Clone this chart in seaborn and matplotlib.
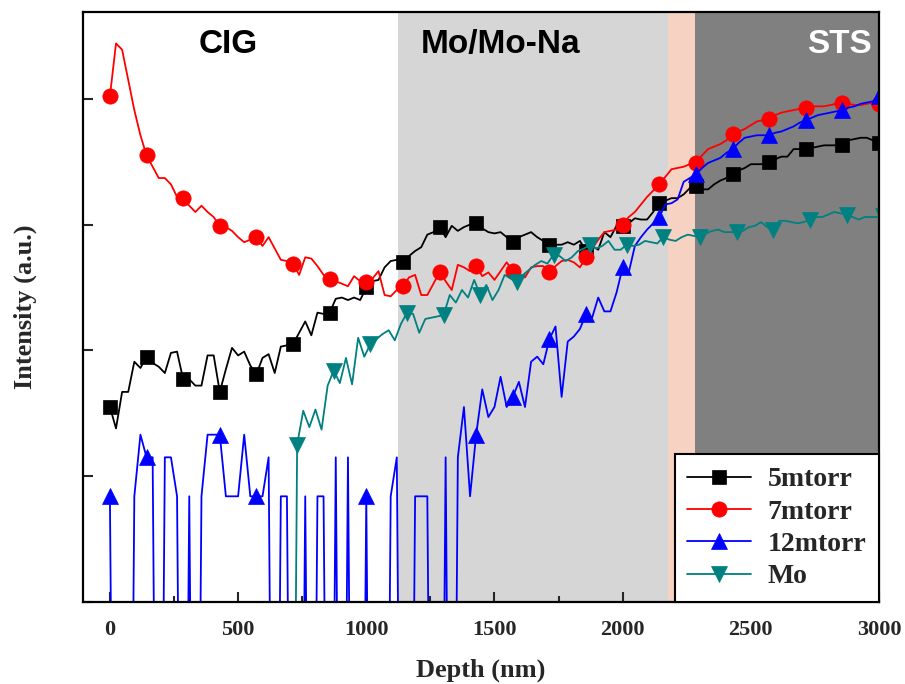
import numpy as np
import pandas as pd
import seaborn as sns
import matplotlib.pyplot as plt
from matplotlib.ticker import MultipleLocator, NullFormatter

sns.set_style('ticks')
plt.rcParams['font.family'] = ['Liberation Serif', 'DejaVu Serif']
plt.rcParams['font.weight'] = 'bold'

# depth grid (nm), one point every 3000/126 nm
depth = np.linspace(0, 3000, 127)
mo_offset = 16  # Mo profile is shifted a little in depth
mo_start = 29   # Mo profile starts here

# intensity in log units (one y tick = one unit), -5 = no signal
i_5mtorr = [1.55, 1.38, 1.67, 1.67, 1.91, 1.86, 1.95, 1.90, 1.87, 1.82,
            1.98, 1.99, 1.77, 1.77, 1.72, 1.72, 1.96, 1.96, 1.67, 1.85,
            2.02, 1.96, 1.99, 1.88, 1.81, 1.94, 1.97, 1.82, 2.03, 2.04,
            2.05, 2.14, 2.23, 2.12, 2.30, 2.29, 2.30, 2.41, 2.42, 2.40,
            2.42, 2.40, 2.50, 2.55, 2.56, 2.66, 2.71, 2.72, 2.70, 2.75,
            2.79, 2.82, 2.92, 2.94, 2.98, 2.90, 2.99, 2.95, 2.98, 3.00,
            3.01, 2.97, 2.94, 2.93, 2.94, 2.90, 2.86, 2.90, 2.92, 2.94,
            2.90, 2.87, 2.84, 2.84, 2.84, 2.86, 2.84, 2.87, 2.79, 2.83,
            2.80, 2.94, 2.90, 2.99, 2.99, 3.01, 3.05, 3.04, 3.04, 3.10,
            3.17, 3.19, 3.21, 3.21, 3.24, 3.29, 3.31, 3.28, 3.28, 3.32,
            3.35, 3.37, 3.40, 3.43, 3.45, 3.48, 3.48, 3.48, 3.50, 3.52,
            3.54, 3.54, 3.60, 3.60, 3.60, 3.61, 3.62, 3.63, 3.63, 3.63,
            3.63, 3.67, 3.68, 3.69, 3.69, 3.67, 3.65]

i_7mtorr = [4.02, 4.44, 4.39, 4.15, 3.91, 3.71, 3.55, 3.46, 3.37, 3.37,
            3.32, 3.22, 3.21, 3.15, 3.10, 3.15, 3.10, 3.06, 2.99, 2.98,
            2.95, 2.90, 2.86, 2.88, 2.90, 2.83, 2.90, 2.81, 2.72, 2.71,
            2.69, 2.60, 2.74, 2.73, 2.67, 2.60, 2.57, 2.55, 2.53, 2.51,
            2.59, 2.55, 2.54, 2.57, 2.63, 2.44, 2.43, 2.48, 2.51, 2.58,
            2.60, 2.44, 2.44, 2.53, 2.62, 2.55, 2.48, 2.68, 2.66, 2.63,
            2.67, 2.59, 2.62, 2.56, 2.63, 2.70, 2.63, 2.60, 2.58, 2.66,
            2.67, 2.67, 2.62, 2.67, 2.71, 2.72, 2.70, 2.66, 2.74, 2.81,
            2.88, 2.94, 2.95, 2.96, 3.00, 3.06, 3.10, 3.16, 3.22, 3.27,
            3.32, 3.38, 3.44, 3.45, 3.46, 3.48, 3.49, 3.55, 3.60, 3.62,
            3.64, 3.67, 3.72, 3.74, 3.76, 3.79, 3.82, 3.83, 3.84, 3.87,
            3.89, 3.90, 3.91, 3.92, 3.93, 3.94, 3.94, 3.94, 3.95, 3.96,
            3.97, 3.96, 3.95, 3.95, 3.96, 3.97, 3.96]

i_12mtorr = [0.84, -5, -5, -5, 0.84, 1.33, 1.15, 1.15, -5, 1.15,
             1.15, 0.84, -5, 0.84, -5, 0.84, 1.33, 1.33, 1.33, 0.84,
             0.84, 0.84, 1.33, 0.84, 0.84, 0.84, 1.15, -5, 0.84, 0.84,
             -5, -5, 0.84, -5, 0.84, 0.84, -5, 1.15, -5, 1.15,
             -5, -5, 0.84, -5, -5, -5, 0.84, 1.15, -5, -5,
             0.84, 0.84, 0.84, -5, -5, 1.15, -5, 1.15, 1.55, 0.84,
             1.33, 1.69, 1.47, 1.55, 1.79, 1.55, 1.63, 1.75, 1.55, 1.91,
             1.95, 1.89, 2.09, 2.19, 1.63, 2.07, 2.11, 2.17, 2.29, 2.26,
             2.42, 2.31, 2.31, 2.46, 2.66, 2.62, 2.83, 2.90, 2.96, 3.01,
             3.06, 3.16, 3.17, 3.20, 3.34, 3.37, 3.40, 3.45, 3.49, 3.51,
             3.53, 3.57, 3.60, 3.65, 3.69, 3.70, 3.71, 3.71, 3.71, 3.73,
             3.74, 3.76, 3.78, 3.81, 3.83, 3.85, 3.87, 3.88, 3.89, 3.90,
             3.91, 3.93, 3.94, 3.96, 3.97, 3.98, 4.02]

i_mo = [-5, 1.25, 1.52, 1.39, 1.53, 1.37, 1.72, 1.84, 1.74, 1.94,
        1.73, 2.10, 1.95, 2.05, 2.09, 2.13, 2.16, 2.08, 2.21, 2.30,
        2.29, 2.14, 2.25, 2.26, 2.27, 2.28, 2.44, 2.38, 2.48, 2.42,
        2.56, 2.44, 2.52, 2.40, 2.48, 2.60, 2.57, 2.54, 2.60, 2.64,
        2.68, 2.71, 2.69, 2.76, 2.75, 2.71, 2.74, 2.79, 2.81, 2.84,
        2.81, 2.83, 2.87, 2.80, 2.80, 2.84, 2.83, 2.84, 2.87, 2.86,
        2.85, 2.90, 2.88, 2.87, 2.90, 2.92, 2.91, 2.90, 2.93, 2.95,
        2.96, 2.94, 2.94, 2.94, 2.95, 2.98, 2.99, 3.02, 2.98, 2.96,
        3.03, 3.03, 3.02, 3.01, 3.02, 3.04, 3.06, 3.06, 3.08, 3.10,
        3.09, 3.08, 3.06, 3.04, 3.06, 3.06, 3.06, 3.07]

# layer regions (nm)
layer_edges = [1125, 2176, 2281, 3000]
layer_colors = ['#d6d6d6', '#f6d2c3', '#808080']
layer_names = ['CIG', 'Mo/Mo-Na', 'STS']
label_x = [461, 1523, 2844]
label_colors = ['black', 'black', 'white']

fig = plt.figure(figsize=(9.05, 6.84), dpi=100)
ax = fig.add_axes([0.0917, 0.1199, 0.8796, 0.8626])

for x0, x1, c in zip(layer_edges[:-1], layer_edges[1:], layer_colors):
    ax.axvspan(x0, x1, color=c, lw=0, zorder=0)

series = [
    ('5mtorr', depth, i_5mtorr, 'black', 's', 9.5, 0),
    ('7mtorr', depth, i_7mtorr, '#ff0000', 'o', 11, 0),
    ('12mtorr', depth, i_12mtorr, '#0000ff', '^', 11, 0),
    ('Mo', depth[mo_start:] + mo_offset, i_mo, '#008080', 'v', 11, 1),
]
for name, x, y, color, marker, ms, start in series:
    df = pd.DataFrame({'depth': x, 'intensity': y})
    sns.lineplot(data=df, x='depth', y='intensity', ax=ax, color=color,
                 marker=marker, markersize=ms, markevery=(start, 6),
                 markeredgecolor=color, markeredgewidth=0.5, lw=1.3,
                 label=name, estimator=None, sort=False)

for name, xt, c in zip(layer_names, label_x, label_colors):
    ax.text(xt, 4.43, name, ha='center', va='center', fontsize=24,
            fontweight='bold', family='Liberation Sans', color=c)

ax.set_xlim(-105, 3000)
ax.set_ylim(0, 4.69)
ax.xaxis.set_major_locator(MultipleLocator(500))
ax.xaxis.set_minor_locator(MultipleLocator(250))
ax.yaxis.set_major_locator(MultipleLocator(1))
ax.yaxis.set_major_formatter(NullFormatter())
ax.tick_params(which='major', direction='in', length=7, width=1.5,
               labelsize=16, pad=13)
ax.tick_params(which='minor', direction='in', length=4, width=1.5)
for lab in ax.get_xticklabels():
    lab.set_fontweight('bold')
for s in ax.spines.values():
    s.set_linewidth(1.6)
    s.set_color('black')

ax.set_xlabel('Depth (nm)', fontsize=19, fontweight='bold', labelpad=13)
ax.set_ylabel('Intensity (a.u.)', fontsize=19, fontweight='bold', labelpad=20)

leg = ax.legend(loc='lower right', borderaxespad=0, frameon=True,
                fancybox=False, edgecolor='black', framealpha=1,
                prop=dict(family='Liberation Serif', weight='bold', size=20),
                handlelength=2.3, labelspacing=0.25, borderpad=0.45,
                handletextpad=0.6)
leg.get_frame().set_linewidth(1.5)

fig.savefig('out.png', dpi=100)
